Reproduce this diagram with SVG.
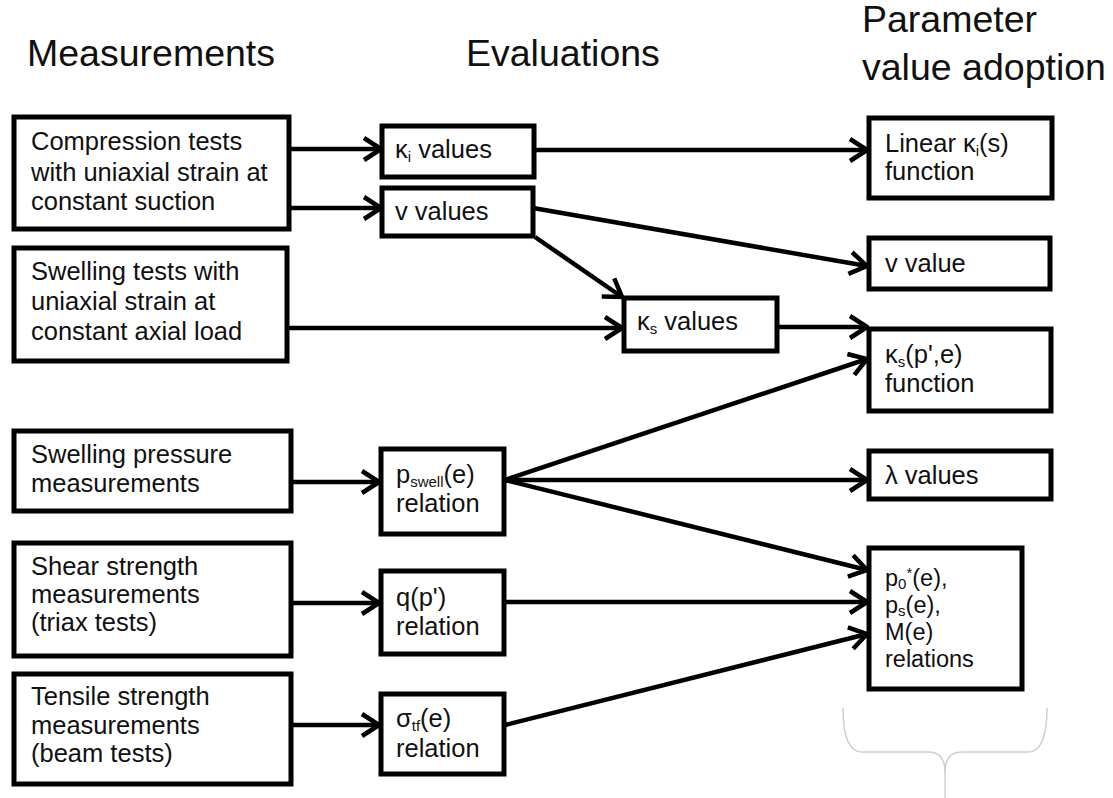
<svg xmlns="http://www.w3.org/2000/svg" width="1113" height="798" viewBox="0 0 1113 798">
<style>
.box{fill:#fff;stroke:#000;stroke-width:5}
.t{font-family:"Liberation Sans",Arial,sans-serif;font-size:25.5px;fill:#111}
.s{font-size:23.5px}
.h{font-family:"Liberation Sans",Arial,sans-serif;font-size:37.5px;fill:#111}
.sub{font-size:15px}
.c{fill:none;stroke:#000;stroke-width:4.5;marker-end:url(#ah)}
</style>
<defs>
<marker id="ah" markerUnits="userSpaceOnUse" viewBox="0 0 22 26" markerWidth="22" markerHeight="26" refX="20" refY="13" orient="auto">
<path d="M3,2 L20,13 L3,24" fill="none" stroke="#000" stroke-width="4.5"/>
</marker>
</defs>
<rect width="1113" height="798" fill="#fff"/>
<g id="headers">
<text class="h" x="27" y="66">Measurements</text>
<text class="h" x="466" y="66">Evaluations</text>
<text class="h" x="862" y="32">Parameter</text>
<text class="h" x="862" y="80">value adoption</text>
</g>
<g id="connectors">
<line class="c" x1="290" y1="149" x2="381" y2="149"/>
<line class="c" x1="290" y1="208" x2="381" y2="208"/>
<line class="c" x1="288" y1="328" x2="622" y2="328"/>
<line class="c" x1="535" y1="150" x2="867" y2="150"/>
<line class="c" x1="533" y1="208" x2="867" y2="266"/>
<line class="c" x1="535" y1="237" x2="622" y2="297"/>
<line class="c" x1="778" y1="327" x2="867" y2="327"/>
<line class="c" x1="505" y1="480" x2="867" y2="359"/>
<line class="c" x1="505" y1="480" x2="867" y2="480"/>
<line class="c" x1="505" y1="480" x2="867" y2="570"/>
<line class="c" x1="505" y1="602" x2="867" y2="602"/>
<line class="c" x1="505" y1="725" x2="867" y2="634"/>
<line class="c" x1="292" y1="482" x2="379" y2="482"/>
<line class="c" x1="292" y1="603" x2="379" y2="603"/>
<line class="c" x1="292" y1="725" x2="379" y2="725"/>
</g>
<g id="m1"><rect class="box" x="14" y="117" width="275" height="112"/>
<text class="t" x="31" y="150">Compression tests</text>
<text class="t" x="31" y="181">with uniaxial strain at</text>
<text class="t" x="31" y="210">constant suction</text></g>
<g id="m2"><rect class="box" x="14" y="248" width="273" height="113"/>
<text class="t" x="31" y="280">Swelling tests with</text>
<text class="t" x="31" y="310">uniaxial strain at</text>
<text class="t" x="31" y="340">constant axial load</text></g>
<g id="m3"><rect class="box" x="14" y="431" width="277" height="80"/>
<text class="t" x="31" y="463">Swelling pressure</text>
<text class="t" x="31" y="492">measurements</text></g>
<g id="m4"><rect class="box" x="14" y="543" width="277" height="113"/>
<text class="t" x="31" y="575">Shear strength</text>
<text class="t" x="31" y="603">measurements</text>
<text class="t" x="31" y="631">(triax tests)</text></g>
<g id="m5"><rect class="box" x="14" y="674" width="277" height="110"/>
<text class="t" x="31" y="705">Tensile strength</text>
<text class="t" x="31" y="734">measurements</text>
<text class="t" x="31" y="762">(beam tests)</text></g>
<g id="e1"><rect class="box" x="382" y="126" width="152" height="51"/>
<text class="t" x="395" y="158">κ<tspan class="sub" dy="4">i</tspan><tspan dy="-4"> values</tspan></text></g>
<g id="e2"><rect class="box" x="382" y="188" width="151" height="48"/>
<text class="t" x="395" y="220">v values</text></g>
<g id="e3"><rect class="box" x="624" y="298" width="153" height="53"/>
<text class="t" x="637" y="330">κ<tspan class="sub" dy="4">s</tspan><tspan dy="-4"> values</tspan></text></g>
<g id="e4"><rect class="box" x="381" y="449" width="123" height="85"/>
<text class="t" x="396" y="483">p<tspan class="sub" dy="4">swell</tspan><tspan dy="-4">(e)</tspan></text>
<text class="t" x="396" y="512">relation</text></g>
<g id="e5"><rect class="box" x="381" y="571" width="123" height="83"/>
<text class="t" x="396" y="606">q(p')</text>
<text class="t" x="396" y="635">relation</text></g>
<g id="e6"><rect class="box" x="381" y="694" width="123" height="80"/>
<text class="t" x="396" y="727">σ<tspan class="sub" dy="4">tf</tspan><tspan dy="-4">(e)</tspan></text>
<text class="t" x="396" y="757">relation</text></g>
<g id="p1"><rect class="box" x="869" y="118" width="183" height="80"/>
<text class="t" x="885" y="152">Linear κ<tspan class="sub" dy="4">i</tspan><tspan dy="-4">(s)</tspan></text>
<text class="t" x="885" y="180">function</text></g>
<g id="p2"><rect class="box" x="869" y="238" width="181" height="51"/>
<text class="t" x="885" y="272">v value</text></g>
<g id="p3"><rect class="box" x="869" y="329" width="182" height="82"/>
<text class="t" x="885" y="363">κ<tspan class="sub" dy="4">s</tspan><tspan dy="-4">(p',e)</tspan></text>
<text class="t" x="885" y="392">function</text></g>
<g id="p4"><rect class="box" x="869" y="451" width="182" height="48"/>
<text class="t" x="885" y="484">λ values</text></g>
<g id="p5"><rect class="box" x="869" y="548" width="153" height="141"/>
<text class="t s" x="885" y="586">p<tspan class="sub" dy="3">0</tspan><tspan class="sub" dy="-11">*</tspan><tspan dy="8">(e),</tspan></text>
<text class="t s" x="885" y="613">p<tspan class="sub" dy="3">s</tspan><tspan dy="-3">(e),</tspan></text>
<text class="t s" x="885" y="640">M(e)</text>
<text class="t s" x="885" y="667">relations</text></g>
<g id="bracket" fill="none" stroke="#cfcfcf" stroke-width="1.5">
<path d="M843,708 Q843,752 862,752 L928,752 Q945,752 945,772 L945,798"/>
<path d="M1047,708 Q1047,752 1028,752 L962,752 Q945,752 945,772"/>
</g>
</svg>
